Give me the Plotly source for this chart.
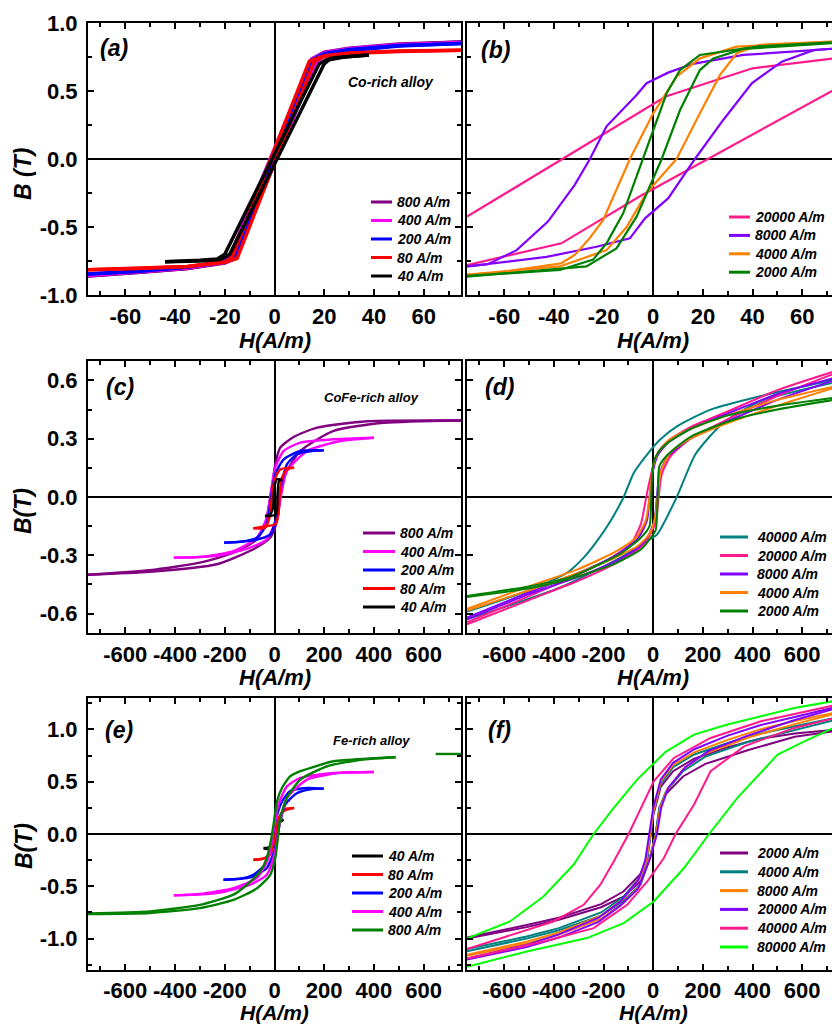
import plotly.graph_objects as go

W, H = 832, 1025

# ---------------- data (H in A/m, B in T); each loop: descending branch, None, ascending branch
a_labels = ["800 A/m", "400 A/m", "200 A/m", "80 A/m", "40 A/m"]
a_colors = ["#800080", "#FF00FF", "#0000FF", "#FF0000", "#000000"]
a_H = [
    [75, 50, 30, 20, 15, -18, -22, -35, -55, -75, None, -75, -55, -35, -20, -16, 17, 21, 30, 50, 75],
    [75, 50, 30, 20, 15, -18, -22, -35, -55, -75, None, -75, -55, -35, -20, -16, 17, 21, 30, 50, 75],
    [75, 50, 30, 20, 15, -17, -21, -35, -55, -75, None, -75, -55, -35, -20, -16, 16, 20, 30, 50, 75],
    [75, 50, 30, 20, 14, -17, -20, -35, -55, -75, None, -75, -55, -35, -20, -15, 16, 20, 30, 50, 75],
    [38, 30, 24, 21, 18, -20, -23, -30, -44, None, -44, -30, -22, -18, 20, 22, 28, 38],
]
a_B = [
    [0.86, 0.845, 0.815, 0.785, 0.735, -0.72, -0.765, -0.805, -0.835, -0.86, None, -0.86, -0.835, -0.805, -0.765, -0.735, 0.72, 0.77, 0.805, 0.84, 0.86],
    [0.855, 0.84, 0.81, 0.78, 0.735, -0.72, -0.76, -0.80, -0.83, -0.855, None, -0.855, -0.83, -0.80, -0.76, -0.735, 0.72, 0.765, 0.80, 0.835, 0.855],
    [0.85, 0.835, 0.805, 0.775, 0.73, -0.72, -0.755, -0.795, -0.825, -0.845, None, -0.845, -0.825, -0.795, -0.755, -0.73, 0.72, 0.76, 0.795, 0.83, 0.85],
    [0.80, 0.795, 0.78, 0.76, 0.72, -0.72, -0.755, -0.79, -0.805, -0.815, None, -0.815, -0.805, -0.79, -0.76, -0.73, 0.72, 0.755, 0.775, 0.79, 0.80],
    [0.765, 0.755, 0.745, 0.73, 0.70, -0.70, -0.735, -0.745, -0.755, None, -0.755, -0.75, -0.74, -0.70, 0.70, 0.73, 0.75, 0.765],
]

b_labels = ["20000 A/m", "8000 A/m", "4000 A/m", "2000 A/m"]
b_colors = ["#FF1A8C", "#8000FF", "#FF8000", "#008000"]
b_H = [
    [75, 40, 5, -75, None, -75, -37, -5, 75],
    [75, 64.6, 36.3, 16, 6, -2.7, -6.7, -18.8, -25.5, -31.6, -42.4, -55, -66.6, -75, None,
     -75, -43, -22.8, -9.4, -3.3, 6, 16.8, 28.2, 39.7, 51.8, 64.6, 75],
    [75, 33.6, 18.8, 9.4, 0, -9.4, -20.2, -25.5, -31.6, -37, -64.6, -75, None,
     -75, -37.6, -18.8, -10.7, -2.7, 9.4, 18.8, 26.9, 33.6, 43, 75],
    [75, 43, 18.8, 10.8, 5.4, -4, -12.1, -18.8, -24.2, -37.6, -75, None,
     -75, -26.9, -14.8, -6.7, 3.4, 10.8, 18.8, 24.2, 36.3, 75],
]
b_B = [
    [0.745, 0.667, 0.46, -0.424, None, -0.78, -0.62, -0.27, 0.53],
    [0.815, 0.80, 0.765, 0.70, 0.635, 0.557, 0.47, 0.24, 0.0, -0.19, -0.46, -0.67, -0.774, -0.79, None,
     -0.79, -0.72, -0.645, -0.583, -0.436, -0.29, 0.0, 0.287, 0.557, 0.716, 0.80, 0.815],
    [0.865, 0.826, 0.74, 0.605, 0.336, 0.0, -0.45, -0.58, -0.706, -0.767, -0.84, -0.85, None,
     -0.85, -0.79, -0.67, -0.50, -0.25, 0.0, 0.336, 0.618, 0.777, 0.84, 0.865],
    [0.86, 0.83, 0.765, 0.654, 0.483, 0.0, -0.40, -0.62, -0.74, -0.816, -0.86, None,
     -0.865, -0.79, -0.657, -0.424, 0.0, 0.36, 0.654, 0.74, 0.81, 0.855],
]

c_labels = ["800 A/m", "400 A/m", "200 A/m", "80 A/m", "40 A/m"]
c_colors = ["#800080", "#FF00FF", "#0000FF", "#FF0000", "#000000"]
c_H = [
    [750, 373, 171, 77, 23, 3, -10, -24, -37, -71, -165, -300, -502, -750, None,
     -750, -502, -232, -85, -17, 10, 23, 43, 104, 238, 440, 750],
    [400, 238, 104, 37, 3, -14, -31, -71, -165, -300, -405, None,
     -405, -232, -98, -31, 10, 27, 50, 131, 265, 400],
    [198, 104, 37, 3, -14, -31, -71, -138, -203, None,
     -203, -85, -17, 7, 20, 50, 90, 151, 198],
    [79, 23, -1, -11, -20, -38, -85, None, -85, -51, 3, 16, 20, 30, 50, 79],
    [30, 10, -1, -6, -17, -38, None, -38, -24, 7, 12, 18, 30],
]
c_B = [
    [0.394, 0.39, 0.357, 0.309, 0.254, 0.168, 0.048, -0.055, -0.14, -0.218, -0.287, -0.338, -0.377, -0.40, None,
     -0.40, -0.385, -0.346, -0.269, -0.209, -0.123, -0.004, 0.117, 0.237, 0.34, 0.382, 0.394],
    [0.305, 0.297, 0.28, 0.237, 0.151, 0.031, -0.106, -0.209, -0.278, -0.309, -0.312, None,
     -0.312, -0.303, -0.26, -0.218, -0.106, 0.014, 0.134, 0.237, 0.288, 0.305],
    [0.24, 0.237, 0.194, 0.117, -0.003, -0.14, -0.21, -0.23, -0.235, None,
     -0.235, -0.223, -0.192, -0.106, 0.014, 0.168, 0.22, 0.237, 0.24],
    [0.151, 0.142, 0.082, -0.003, -0.106, -0.158, -0.161, None, -0.161, -0.154, -0.14, -0.089, -0.003, 0.1, 0.142, 0.151],
    [0.091, 0.091, 0.048, -0.055, -0.089, -0.098, None, -0.098, -0.098, -0.089, 0.014, 0.082, 0.091],
]

d_labels = ["40000 A/m", "20000 A/m", "8000 A/m", "4000 A/m", "2000 A/m"]
d_colors = ["#008080", "#FF1A8C", "#8000FF", "#FF8000", "#008000"]
d_H = [
    [750, 434, 231, 97, 29, -24, -78, -119, -172, -226, -280, -347, -509, -750, None,
     -750, -375, -132, -24, 16, 95, 170, 280, 434, 750],
    [750, 500, 300, 150, 60, 20, 0, -20, -28, -50, -90, -180, -320, -500, -750, None,
     -750, -500, -300, -150, -60, -20, 10, 22, 35, 70, 150, 300, 500, 750],
    [750, 500, 300, 150, 60, 20, 0, -15, -25, -60, -150, -300, -500, -750, None,
     -750, -500, -300, -150, -60, -20, 5, 15, 25, 60, 150, 300, 500, 750],
    [750, 500, 300, 150, 60, 20, 0, -15, -30, -70, -150, -300, -500, -750, None,
     -750, -500, -300, -150, -60, -15, 5, 18, 30, 70, 150, 300, 500, 750],
    [750, 500, 300, 150, 60, 20, 0, -8, -15, -50, -130, -330, -500, -750, None,
     -750, -500, -330, -150, -50, -10, 10, 18, 25, 60, 150, 330, 500, 750],
]
d_B = [
    [0.61, 0.52, 0.45, 0.365, 0.297, 0.22, 0.125, 0.0, -0.123, -0.226, -0.312, -0.39, -0.484, -0.59, None,
     -0.63, -0.466, -0.312, -0.226, -0.192, 0.0, 0.22, 0.38, 0.494, 0.595],
    [0.655, 0.55, 0.44, 0.36, 0.29, 0.23, 0.16, 0.05, 0.0, -0.14, -0.24, -0.32, -0.41, -0.51, -0.645, None,
     -0.655, -0.53, -0.43, -0.34, -0.27, -0.21, -0.13, 0.0, 0.12, 0.21, 0.30, 0.40, 0.52, 0.645],
    [0.62, 0.53, 0.43, 0.35, 0.28, 0.22, 0.14, 0.0, -0.12, -0.21, -0.30, -0.39, -0.49, -0.62, None,
     -0.63, -0.50, -0.41, -0.33, -0.26, -0.20, -0.12, 0.0, 0.12, 0.21, 0.30, 0.39, 0.50, 0.61],
    [0.575, 0.50, 0.42, 0.35, 0.29, 0.23, 0.16, 0.0, -0.12, -0.21, -0.28, -0.37, -0.46, -0.575, None,
     -0.585, -0.48, -0.39, -0.31, -0.25, -0.19, -0.12, 0.0, 0.13, 0.23, 0.30, 0.38, 0.47, 0.57],
    [0.515, 0.47, 0.42, 0.35, 0.28, 0.23, 0.17, 0.0, -0.15, -0.21, -0.29, -0.41, -0.46, -0.51, None,
     -0.515, -0.47, -0.42, -0.34, -0.27, -0.21, -0.17, 0.0, 0.16, 0.22, 0.31, 0.40, 0.45, 0.505],
]

e_labels = ["40 A/m", "80 A/m", "200 A/m", "400 A/m", "800 A/m"]
e_colors = ["#000000", "#FF0000", "#0000FF", "#FF00FF", "#008000"]
e_H = [
    [36, 16, 7, -4, -17, -44, None, -44, -31, -1, 7, 12, 36],
    [79, 43, 20, 7, -11, -38, -85, None, -85, -51, -17, -1, 16, 36, 79],
    [198, 131, 63, 30, 3, -14, -38, -85, -138, -205, None,
     -205, -98, -31, 3, 20, 43, 90, 151, 198],
    [400, 238, 104, 50, 16, -4, -24, -71, -165, -300, -405, None,
     -405, -232, -98, -31, 3, 20, 50, 131, 265, 400],
    [750, 648, None, 487, 373, 238, 104, 63, 30, 10, -4, -15, -31, -58, -111, -165, -300, -502, -750, None,
     -750, -502, -300, -165, -71, -17, 3, 12, 23, 50, 104, 211, 346, 487],
]
e_B = [
    [0.137, 0.13, 0.041, -0.086, -0.124, -0.134, None, -0.134, -0.143, -0.119, -0.023, 0.089, 0.137],
    [0.249, 0.239, 0.168, 0.01, -0.15, -0.23, -0.246, None, -0.246, -0.239, -0.198, -0.055, 0.137, 0.216, 0.249],
    [0.434, 0.44, 0.41, 0.31, 0.12, -0.10, -0.294, -0.39, -0.428, -0.437, None,
     -0.437, -0.415, -0.325, -0.134, 0.089, 0.28, 0.39, 0.43, 0.434],
    [0.593, 0.584, 0.536, 0.455, 0.28, 0.025, -0.23, -0.42, -0.517, -0.574, -0.587, None,
     -0.587, -0.565, -0.485, -0.39, -0.166, 0.089, 0.345, 0.52, 0.584, 0.593],
    [0.765, 0.765, None, 0.733, 0.72, 0.695, 0.60, 0.55, 0.44, 0.31, 0.089, -0.07, -0.23, -0.358, -0.485, -0.58, -0.677, -0.74, -0.76, None,
     -0.765, -0.755, -0.708, -0.63, -0.52, -0.39, -0.23, -0.07, 0.153, 0.345, 0.52, 0.647, 0.71, 0.733],
]

f_labels = ["2000 A/m", "4000 A/m", "8000 A/m", "20000 A/m", "40000 A/m", "80000 A/m"]
f_colors = ["#800080", "#008080", "#FF8000", "#8000FF", "#FF1A8C", "#00FF00"]
f_H = [
    [750, 570, 430, 300, 165, 80, 30, 0, -10, -25, -50, -120, -210, -380, -510, -750, None,
     -750, -510, -380, -210, -120, -50, -10, 10, 25, 50, 120, 210, 380, 570, 750],
    [750, 570, 430, 300, 165, 80, 30, 0, -10, -25, -50, -120, -210, -380, -510, -750, None,
     -750, -510, -380, -210, -120, -50, -10, 10, 25, 50, 120, 210, 380, 570, 750],
    [750, 570, 430, 300, 165, 80, 30, 0, -12, -28, -55, -120, -210, -380, -510, -750, None,
     -750, -510, -380, -210, -120, -55, -12, 12, 28, 55, 120, 210, 380, 570, 750],
    [750, 570, 430, 300, 165, 80, 30, 0, -15, -32, -60, -130, -220, -380, -510, -750, None,
     -750, -510, -380, -220, -130, -60, -15, 15, 32, 60, 130, 220, 380, 570, 750],
    [750, 434, 231, 83, 2, -44, -99, -159, -213, -280, -402, -750, None,
     -750, -442, -240, -105, -24, 43, 90, 164, 231, 366, 568, 750],
    [750, 568, 299, 164, 50, -65, -159, -240, -321, -442, -577, -750, None,
     -750, -509, -267, -119, 2, 124, 225, 339, 501, 609, 750],
]
f_B = [
    [1.0, 0.96, 0.91, 0.83, 0.72, 0.60, 0.45, 0.18, 0.0, -0.25, -0.38, -0.55, -0.67, -0.80, -0.87, -0.99, None,
     -1.0, -0.89, -0.82, -0.70, -0.60, -0.45, -0.20, 0.0, 0.25, 0.38, 0.55, 0.67, 0.80, 0.93, 0.99],
    [1.12, 1.03, 0.96, 0.87, 0.76, 0.64, 0.48, 0.20, 0.0, -0.25, -0.40, -0.60, -0.75, -0.90, -0.98, -1.10, None,
     -1.12, -1.00, -0.92, -0.78, -0.64, -0.48, -0.20, 0.0, 0.25, 0.40, 0.60, 0.74, 0.88, 0.99, 1.10],
    [1.17, 1.08, 1.00, 0.90, 0.78, 0.66, 0.50, 0.21, 0.0, -0.25, -0.42, -0.62, -0.78, -0.94, -1.03, -1.155, None,
     -1.165, -1.05, -0.96, -0.81, -0.66, -0.50, -0.21, 0.0, 0.25, 0.42, 0.62, 0.77, 0.92, 1.05, 1.16],
    [1.22, 1.12, 1.04, 0.94, 0.81, 0.68, 0.52, 0.25, 0.0, -0.25, -0.44, -0.64, -0.80, -0.96, -1.06, -1.19, None,
     -1.20, -1.08, -0.99, -0.84, -0.68, -0.52, -0.25, 0.0, 0.25, 0.44, 0.64, 0.79, 0.94, 1.09, 1.21],
    [1.24, 1.078, 0.918, 0.727, 0.503, 0.28, 0.0, -0.262, -0.485, -0.677, -0.836, -1.10, None,
     -1.19, -1.028, -0.90, -0.677, -0.454, -0.23, 0.0, 0.28, 0.60, 0.838, 1.014, 1.12],
    [1.28, 1.205, 1.046, 0.95, 0.785, 0.52, 0.249, 0.0, -0.294, -0.597, -0.836, -1.0, None,
     -1.27, -1.123, -0.995, -0.852, -0.645, -0.325, 0.0, 0.345, 0.759, 0.886, 1.04],
]

# tick labels
x_small_vals = [-60, -40, -20, 0, 20, 40, 60]
x_small_text = ["-60", "-40", "-20", "0", "20", "40", "60"]
x_big_vals = [-600, -400, -200, 0, 200, 400, 600]
x_big_text = ["-600", "-400", "-200", "0", "200", "400", "600"]
y_ae_vals = [-1.0, -0.5, 0.0, 0.5, 1.0]
y_ae_text = ["-1.0", "-0.5", "0.0", "0.5", "1.0"]
y_c_vals = [-0.6, -0.3, 0.0, 0.3, 0.6]
y_c_text = ["-0.6", "-0.3", "0.0", "0.3", "0.6"]

# ---------------- layout helpers
FONT = "Liberation Sans, Arial, sans-serif"


def px(x):
    return x / W


def py(y):
    return 1 - y / H


XL = [px(88), px(461)]
XR = [px(467), 1.0]
R1 = [py(295), py(23)]
R2 = [py(633), py(361)]
R3 = [py(970), py(698)]


def xax(domain, rng, vals, text, minor_dt, anchor, mirror, standoff=1):
    return dict(domain=domain, range=rng, anchor=anchor, tickmode="array", tickvals=vals, ticktext=text,
                showline=True, linecolor="black", linewidth=2, mirror=mirror, automargin=False,
                ticks="inside", ticklen=6, tickwidth=1.5, tickcolor="black",
                minor=dict(tickmode="linear", tick0=0, dtick=minor_dt, ticks="inside", ticklen=4,
                           tickwidth=1.5, tickcolor="black", showgrid=False),
                showgrid=False, zeroline=True, zerolinecolor="black", zerolinewidth=2,
                tickfont=dict(family=FONT, size=22, color="black", weight="bold"),
                ticklabelstandoff=standoff, fixedrange=True)


def yax(domain, rng, vals, text, minor_dt, anchor, labels, mirror):
    d = xax(domain, rng, vals, text, minor_dt, anchor, mirror)
    d["showticklabels"] = labels
    d["ticklabelstandoff"] = 4
    return d


fig = go.Figure()

panels = [
    ("x", "y", a_H, a_B, a_colors, a_labels, 3.5, "linear"),
    ("x2", "y2", b_H, b_B, b_colors, b_labels, 2.2, "linear"),
    ("x3", "y3", c_H, c_B, c_colors, c_labels, 2.4, "spline"),
    ("x4", "y4", d_H, d_B, d_colors, d_labels, 2.0, "spline"),
    ("x5", "y5", e_H, e_B, e_colors, e_labels, 2.4, "spline"),
    ("x6", "y6", f_H, f_B, f_colors, f_labels, 2.0, "linear"),
]
for xa, ya, hs, bs, cols, labs, lw, shp in panels:
    for hh, bb, col, lab in zip(hs, bs, cols, labs):
        ln = dict(color=col, width=lw, shape=shp)
        if shp == "spline":
            ln["smoothing"] = 0.6
        fig.add_trace(go.Scatter(x=hh, y=bb, mode="lines", name=lab, xaxis=xa, yaxis=ya,
                                 line=ln, showlegend=False,
                                 connectgaps=False, hoverinfo="skip"))

fig.update_layout(
    width=W, height=H, margin=dict(l=0, r=0, t=0, b=0, pad=0, autoexpand=False),
    paper_bgcolor="white", plot_bgcolor="white", showlegend=False,
    xaxis=xax(XL, [-75, 75], x_small_vals, x_small_text, 10, "y", "ticks"),
    yaxis=yax(R1, [-1, 1], y_ae_vals, y_ae_text, 0.25, "x", True, "ticks"),
    xaxis2=xax(XR, [-75, 72], x_small_vals, x_small_text, 10, "y2", "ticks"),
    yaxis2=yax(R1, [-1, 1], y_ae_vals, y_ae_text, 0.25, "x2", False, False),
    xaxis3=xax(XL, [-750, 750], x_big_vals, x_big_text, 100, "y3", "ticks"),
    yaxis3=yax(R2, [-0.7, 0.7], y_c_vals, y_c_text, 0.15, "x3", True, "ticks"),
    xaxis4=xax(XR, [-750, 720], x_big_vals, x_big_text, 100, "y4", "ticks"),
    yaxis4=yax(R2, [-0.7, 0.7], y_c_vals, y_c_text, 0.15, "x4", False, False),
    xaxis5=xax(XL, [-750, 750], x_big_vals, x_big_text, 100, "y5", "ticks", 0),
    yaxis5=yax(R3, [-1.3, 1.3], y_ae_vals, y_ae_text, 0.25, "x5", True, "ticks"),
    xaxis6=xax(XR, [-750, 720], x_big_vals, x_big_text, 100, "y6", "ticks", 0),
    yaxis6=yax(R3, [-1.3, 1.3], y_ae_vals, y_ae_text, 0.25, "x6", False, False),
)

annotations = []
shapes = []


def text(x, y, s, size, angle=0, xanchor="center"):
    annotations.append(dict(x=px(x), y=py(y), xref="paper", yref="paper", text=s, showarrow=False,
                            textangle=angle, xanchor=xanchor, yanchor="middle",
                            font=dict(family=FONT, size=size, color="black")))


# axis titles
for yy, fs in ((340, 22), (677, 22), (1012.5, 21)):
    text(274.5, yy, "<b><i>H(A/m)</i></b>", fs)
    text(653, yy, "<b><i>H(A/m)</i></b>", fs)
text(23, 174, "<b><i>B (T)</i></b>", 23, angle=-90)
text(23, 511, "<b><i>B(T)</i></b>", 23, angle=-90)
text(24, 846, "<b><i>B(T)</i></b>", 23, angle=-90)

# panel tags
for (x, y, s) in [(114, 48, "(a)"), (495, 50, "(b)"), (120, 387, "(c)"), (499, 387, "(d)"),
                  (119, 730, "(e)"), (499, 730, "(f)")]:
    text(x, y, "<b><i>%s</i></b>" % s, 23)

text(391, 82, "<b><i>Co-rich alloy</i></b>", 14)
text(371, 397, "<b><i>CoFe-rich alloy</i></b>", 13)
text(371, 740, "<b><i>Fe-rich alloy</i></b>", 13)


def legend(labels, colors, x0, x1, xt, y0, dy):
    for i, (lab, col) in enumerate(zip(labels, colors)):
        yy = y0 + i * dy
        shapes.append(dict(type="line", xref="paper", yref="paper", x0=px(x0), x1=px(x1),
                           y0=py(yy), y1=py(yy), line=dict(color=col, width=3)))
        text(xt, yy, "<b><i>%s</i></b>" % lab, 14, xanchor="left")


legend(a_labels, a_colors, 371, 392, 395, 202, 18.5)
legend(b_labels, b_colors, 729, 750, 753, 217, 18.4)
legend(c_labels, c_colors, 363, 395, 398, 533, 18.5)
legend(d_labels, d_colors, 720, 748, 755, 537, 18.5)
legend(e_labels, e_colors, 352, 383, 386, 856, 18.5)
legend(f_labels, f_colors, 720, 748, 755, 853, 18.8)

fig.update_layout(annotations=annotations, shapes=shapes)
fig.write_html("out.html", config={"displayModeBar": False},
               post_script="document.body.style.margin='0';document.body.style.padding='0';"
                           "document.documentElement.style.overflow='hidden';")
